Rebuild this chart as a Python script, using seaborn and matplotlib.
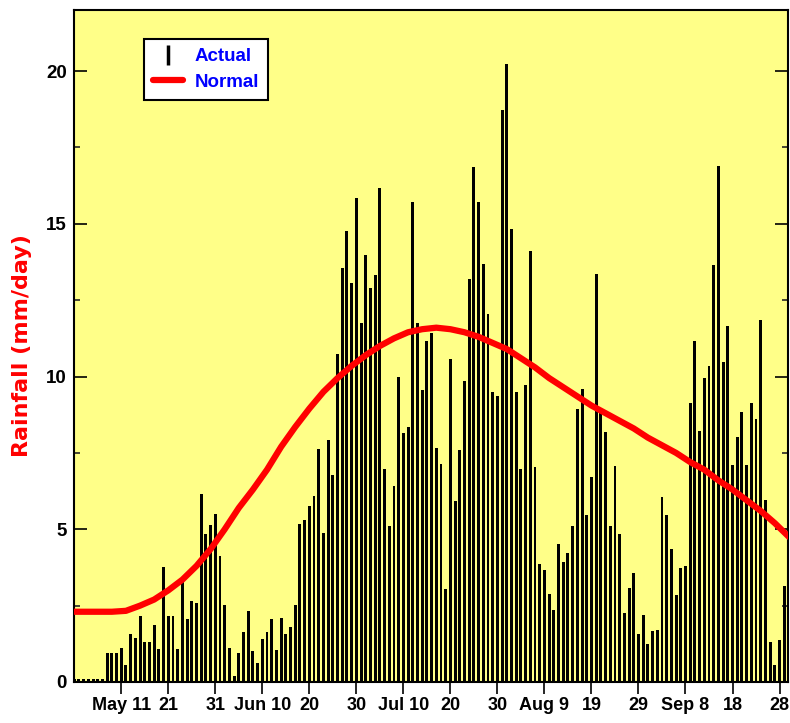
import numpy as np
import pandas as pd
import matplotlib
matplotlib.use('Agg')
import matplotlib.pyplot as plt
import seaborn as sns
from matplotlib.lines import Line2D
from matplotlib.ticker import MultipleLocator

# Day offsets from May 1
day = list(range(152))

rain = [
    0.1, 0.1, 0.1, 0.1, 0.1, 0.1, 0.1,                       # May 1-7
    0.96, 0.96, 0.96, 1.12, 0.55, 1.56, 1.45, 2.16, 1.32, 1.32,
    1.85, 1.08, 3.77, 2.16, 2.16, 1.07, 3.33, 2.05, 2.65, 2.57,
    6.17, 4.85, 5.15, 5.5, 4.14, 2.52, 1.12, 0.19, 0.96, 1.63,
    2.34, 1.0, 0.63,                                         # to Jun 9
    1.40, 1.63, 2.05, 1.04, 2.11, 1.57, 1.80, 2.53, 5.17, 5.29,
    5.77, 6.08, 7.63, 4.87, 7.91, 6.79, 10.73, 13.55, 14.76, 13.07,
    15.83, 11.75, 13.98, 12.9, 13.33, 16.18, 6.96, 5.12, 6.41, 10.0,
    8.14, 8.34, 15.72, 11.75, 9.55, 11.15, 11.44, 7.67, 7.13, 3.04,
    10.56, 5.94, 7.61, 9.85, 13.2, 16.86, 15.72, 13.7, 12.06, 9.48,
    9.36, 18.73, 20.24, 14.84, 9.48, 6.97, 9.72, 14.1, 7.03, 3.87,
    3.67, 2.89, 2.37, 4.52, 3.92, 4.23, 5.12, 8.93, 9.59, 5.48,
    6.72, 13.37, 8.82, 8.17, 5.12, 7.08, 4.83, 2.25, 3.08, 3.56,
    1.58, 2.18, 1.23, 1.66, 1.69, 6.07, 5.48, 4.34, 2.85, 3.74,
    3.79, 9.13, 11.17, 8.22, 9.96, 10.33, 13.66, 16.89, 10.47, 11.66,
    7.09, 8.01, 8.85, 7.09, 9.14, 8.62, 11.85, 5.96, 1.32, 0.56,
    1.38, 3.14,
]

normal_day = [0, 8, 11, 14, 17, 20, 23, 26, 29, 32, 35, 38, 41, 44, 47, 50,
              53, 56, 59, 62, 65, 68, 71, 74, 77, 80, 83, 86, 89, 92, 95,
              98, 101, 104, 107, 110, 113, 116, 119, 122, 125, 128, 131,
              134, 137, 140, 143, 146, 149, 152]
normal_val = [2.30, 2.30, 2.33, 2.5, 2.7, 3.0, 3.35, 3.8, 4.35, 5.0, 5.7,
              6.3, 6.95, 7.7, 8.35, 8.95, 9.5, 9.95, 10.35, 10.7, 11.0,
              11.25, 11.45, 11.55, 11.6, 11.55, 11.45, 11.3, 11.1, 10.9,
              10.6, 10.3, 9.95, 9.65, 9.35, 9.05, 8.8, 8.55, 8.3, 8.0,
              7.75, 7.5, 7.2, 6.95, 6.6, 6.3, 5.95, 5.6, 5.2, 4.75]

tick_days = [10, 20, 30, 40, 50, 60, 70, 80, 90, 100, 110, 120, 130, 140, 150]
tick_labels = ["May 11", "21", "31", "Jun 10", "20", "30", "Jul 10", "20",
               "30", "Aug 9", "19", "29", "Sep 8", "18", "28"]

sns.set_theme(style='ticks')
plt.rcParams['font.family'] = ['Liberation Sans', 'DejaVu Sans']
plt.rcParams['font.weight'] = 'bold'

fig = plt.figure(figsize=(7.9, 7.23), dpi=100)
fig.patch.set_facecolor('white')
ax = fig.add_axes([74 / 790, 1 - 682 / 723, 714 / 790, 672 / 723])
ax.set_facecolor('#FFFF88')

df = pd.DataFrame({'day': day, 'rain': rain})
sns.barplot(data=df, x='day', y='rain', native_scale=True, width=0.62,
            color='black', saturation=1, edgecolor='none', errorbar=None, ax=ax)
nd = pd.DataFrame({'day': normal_day, 'normal': normal_val})
sns.lineplot(data=nd, x='day', y='normal', color='#FF0000', lw=4.5, ax=ax, zorder=5)

ax.set_xlim(-0.05, 151.8)
ax.set_ylim(0, 22)
ax.set_xticks(tick_days)
ax.set_xticklabels(tick_labels)
ax.yaxis.set_major_locator(MultipleLocator(5))
ax.yaxis.set_minor_locator(MultipleLocator(2.5))
ax.xaxis.set_minor_locator(plt.NullLocator())

ax.tick_params(axis='y', which='major', direction='in', left=True, right=True,
               length=9.4, width=1.2, pad=5, labelsize=13.5, colors='black')
ax.tick_params(axis='y', which='minor', direction='in', left=True, right=True,
               length=4.5, width=1.2)
ax.tick_params(axis='x', which='major', direction='out', bottom=True, top=False,
               length=8.6, width=1.2, pad=2, labelsize=13, colors='black')
for lab in ax.get_xticklabels() + ax.get_yticklabels():
    lab.set_fontweight('bold')

for s in ax.spines.values():
    s.set_visible(True)
    s.set_color('black')
    s.set_linewidth(1.5)

ax.set_xlabel('')
ax.set_ylabel('')
fig.text(22 / 790, 1 - 346 / 723, 'Rainfall (mm/day)', rotation=90,
         ha='center', va='center', color='#FF0000', fontsize=16,
         fontweight='bold', family=['DejaVu Sans'])

handles = [Line2D([], [], color='black', marker='|', linestyle='none',
                  markersize=14, markeredgewidth=2.5),
           Line2D([], [], color='#FF0000', lw=4.5)]
leg = ax.legend(handles, ['Actual', 'Normal'], loc='upper left',
                bbox_to_anchor=(0.098, 0.957), frameon=True, fancybox=False,
                framealpha=1, edgecolor='black', facecolor='white',
                prop={'weight': 'bold', 'size': 13.5}, handlelength=1.6,
                handletextpad=0.6, labelspacing=0.45, borderpad=0.5,
                borderaxespad=0)
for t in leg.get_texts():
    t.set_color('#0000FF')
leg.get_frame().set_linewidth(1.5)

fig.savefig('out.png', dpi=100)
